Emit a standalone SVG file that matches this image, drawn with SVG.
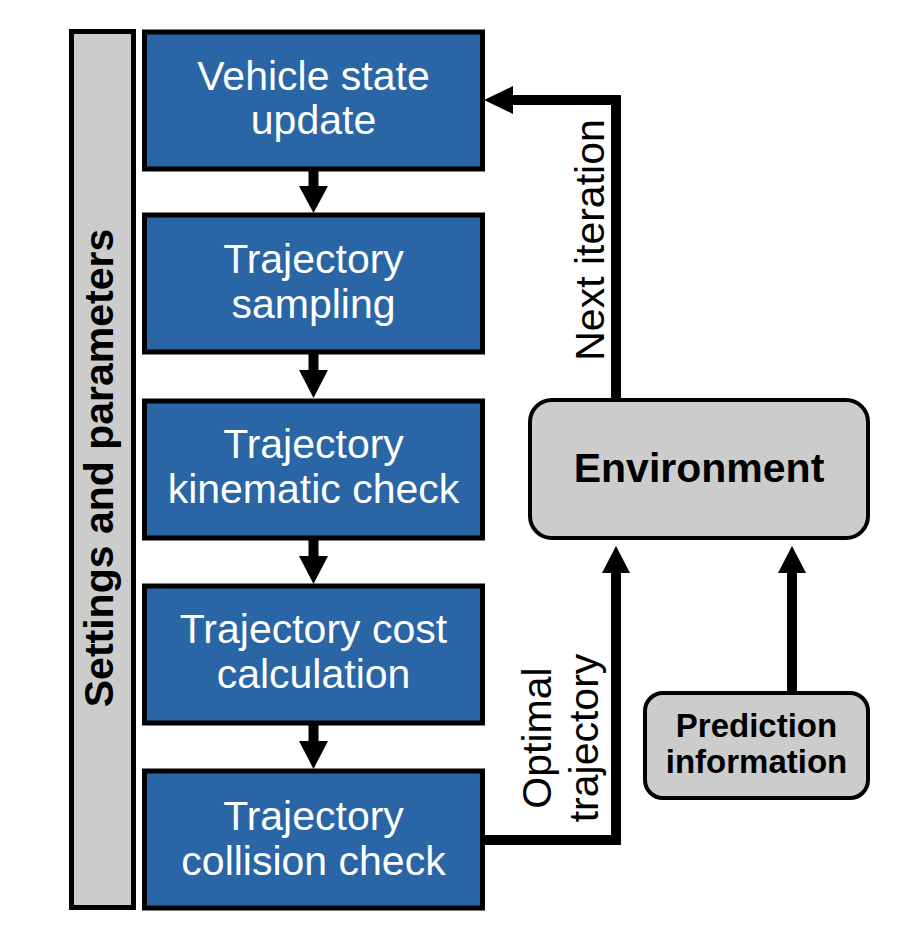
<svg xmlns="http://www.w3.org/2000/svg" width="918" height="930" viewBox="0 0 918 930">
<style>
.step{fill:#2A65A5;stroke:#000;stroke-width:5}
.gray{fill:#CCCCCC;stroke:#000}
.wt{fill:#fff;font-family:"Liberation Sans",Arial,sans-serif;font-size:41px;text-anchor:middle}
.bt{fill:#000;font-family:"Liberation Sans",Arial,sans-serif;font-weight:bold;text-anchor:middle}
.lt{fill:#000;font-family:"Liberation Sans",Arial,sans-serif;font-size:41px;text-anchor:middle}
.ln{fill:none;stroke:#000;stroke-width:10}
.hd{fill:#000}
</style>
<rect width="918" height="930" fill="#fff"/>
<g id="settings">
<rect class="gray" x="71.5" y="31.5" width="62" height="876" stroke-width="5"/>
<text class="bt" font-size="41" transform="translate(113,468) rotate(-90)">Settings and parameters</text>
</g>
<g id="connectors">
<line class="ln" x1="313.5" y1="169" x2="313.5" y2="187"/>
<polygon class="hd" points="299,186 328,186 313.5,213"/>
<line class="ln" x1="313.5" y1="352" x2="313.5" y2="371"/>
<polygon class="hd" points="299,370 328,370 313.5,398"/>
<line class="ln" x1="313.5" y1="538" x2="313.5" y2="557"/>
<polygon class="hd" points="299,556 328,556 313.5,584"/>
<line class="ln" x1="313.5" y1="723" x2="313.5" y2="742"/>
<polygon class="hd" points="299,741 328,741 313.5,769"/>
<polyline class="ln" points="616,400 616,100 511,100"/>
<polygon class="hd" points="513,86 513,114 484,100"/>
<polyline class="ln" points="484,840 616,840 616,572"/>
<polygon class="hd" points="602,573 630,573 616,546"/>
<line class="ln" x1="792" y1="693" x2="792" y2="572"/>
<polygon class="hd" points="778,573 806,573 792,546"/>
<text class="lt" transform="translate(604,240) rotate(-90)">Next iteration</text>
<text class="lt" transform="translate(551,738) rotate(-90)">Optimal</text>
<text class="lt" transform="translate(598,738) rotate(-90)">trajectory</text>
</g>
<g id="vehicle-state-update">
<rect class="step" x="144.5" y="32" width="338" height="137"/>
<text class="wt" x="313.5" y="90">Vehicle state</text>
<text class="wt" x="313.5" y="134">update</text>
</g>
<g id="trajectory-sampling">
<rect class="step" x="144.5" y="215" width="338" height="137"/>
<text class="wt" x="313.5" y="273">Trajectory</text>
<text class="wt" x="313.5" y="318">sampling</text>
</g>
<g id="trajectory-kinematic-check">
<rect class="step" x="144.5" y="401" width="338" height="137"/>
<text class="wt" x="313.5" y="458">Trajectory</text>
<text class="wt" x="313.5" y="503">kinematic check</text>
</g>
<g id="trajectory-cost-calculation">
<rect class="step" x="144.5" y="586" width="338" height="137"/>
<text class="wt" x="313.5" y="643">Trajectory cost</text>
<text class="wt" x="313.5" y="688">calculation</text>
</g>
<g id="trajectory-collision-check">
<rect class="step" x="144.5" y="771" width="338" height="137"/>
<text class="wt" x="313.5" y="830">Trajectory</text>
<text class="wt" x="313.5" y="875">collision check</text>
</g>
<g id="environment">
<rect class="gray" x="530" y="400" width="338" height="138" rx="22" stroke-width="4"/>
<text class="bt" font-size="41" x="699" y="482">Environment</text>
</g>
<g id="prediction-information">
<rect class="gray" x="645" y="693" width="223" height="105" rx="18" stroke-width="4"/>
<text class="bt" font-size="33" x="756.5" y="737">Prediction</text>
<text class="bt" font-size="33" x="756.5" y="773">information</text>
</g>
</svg>
